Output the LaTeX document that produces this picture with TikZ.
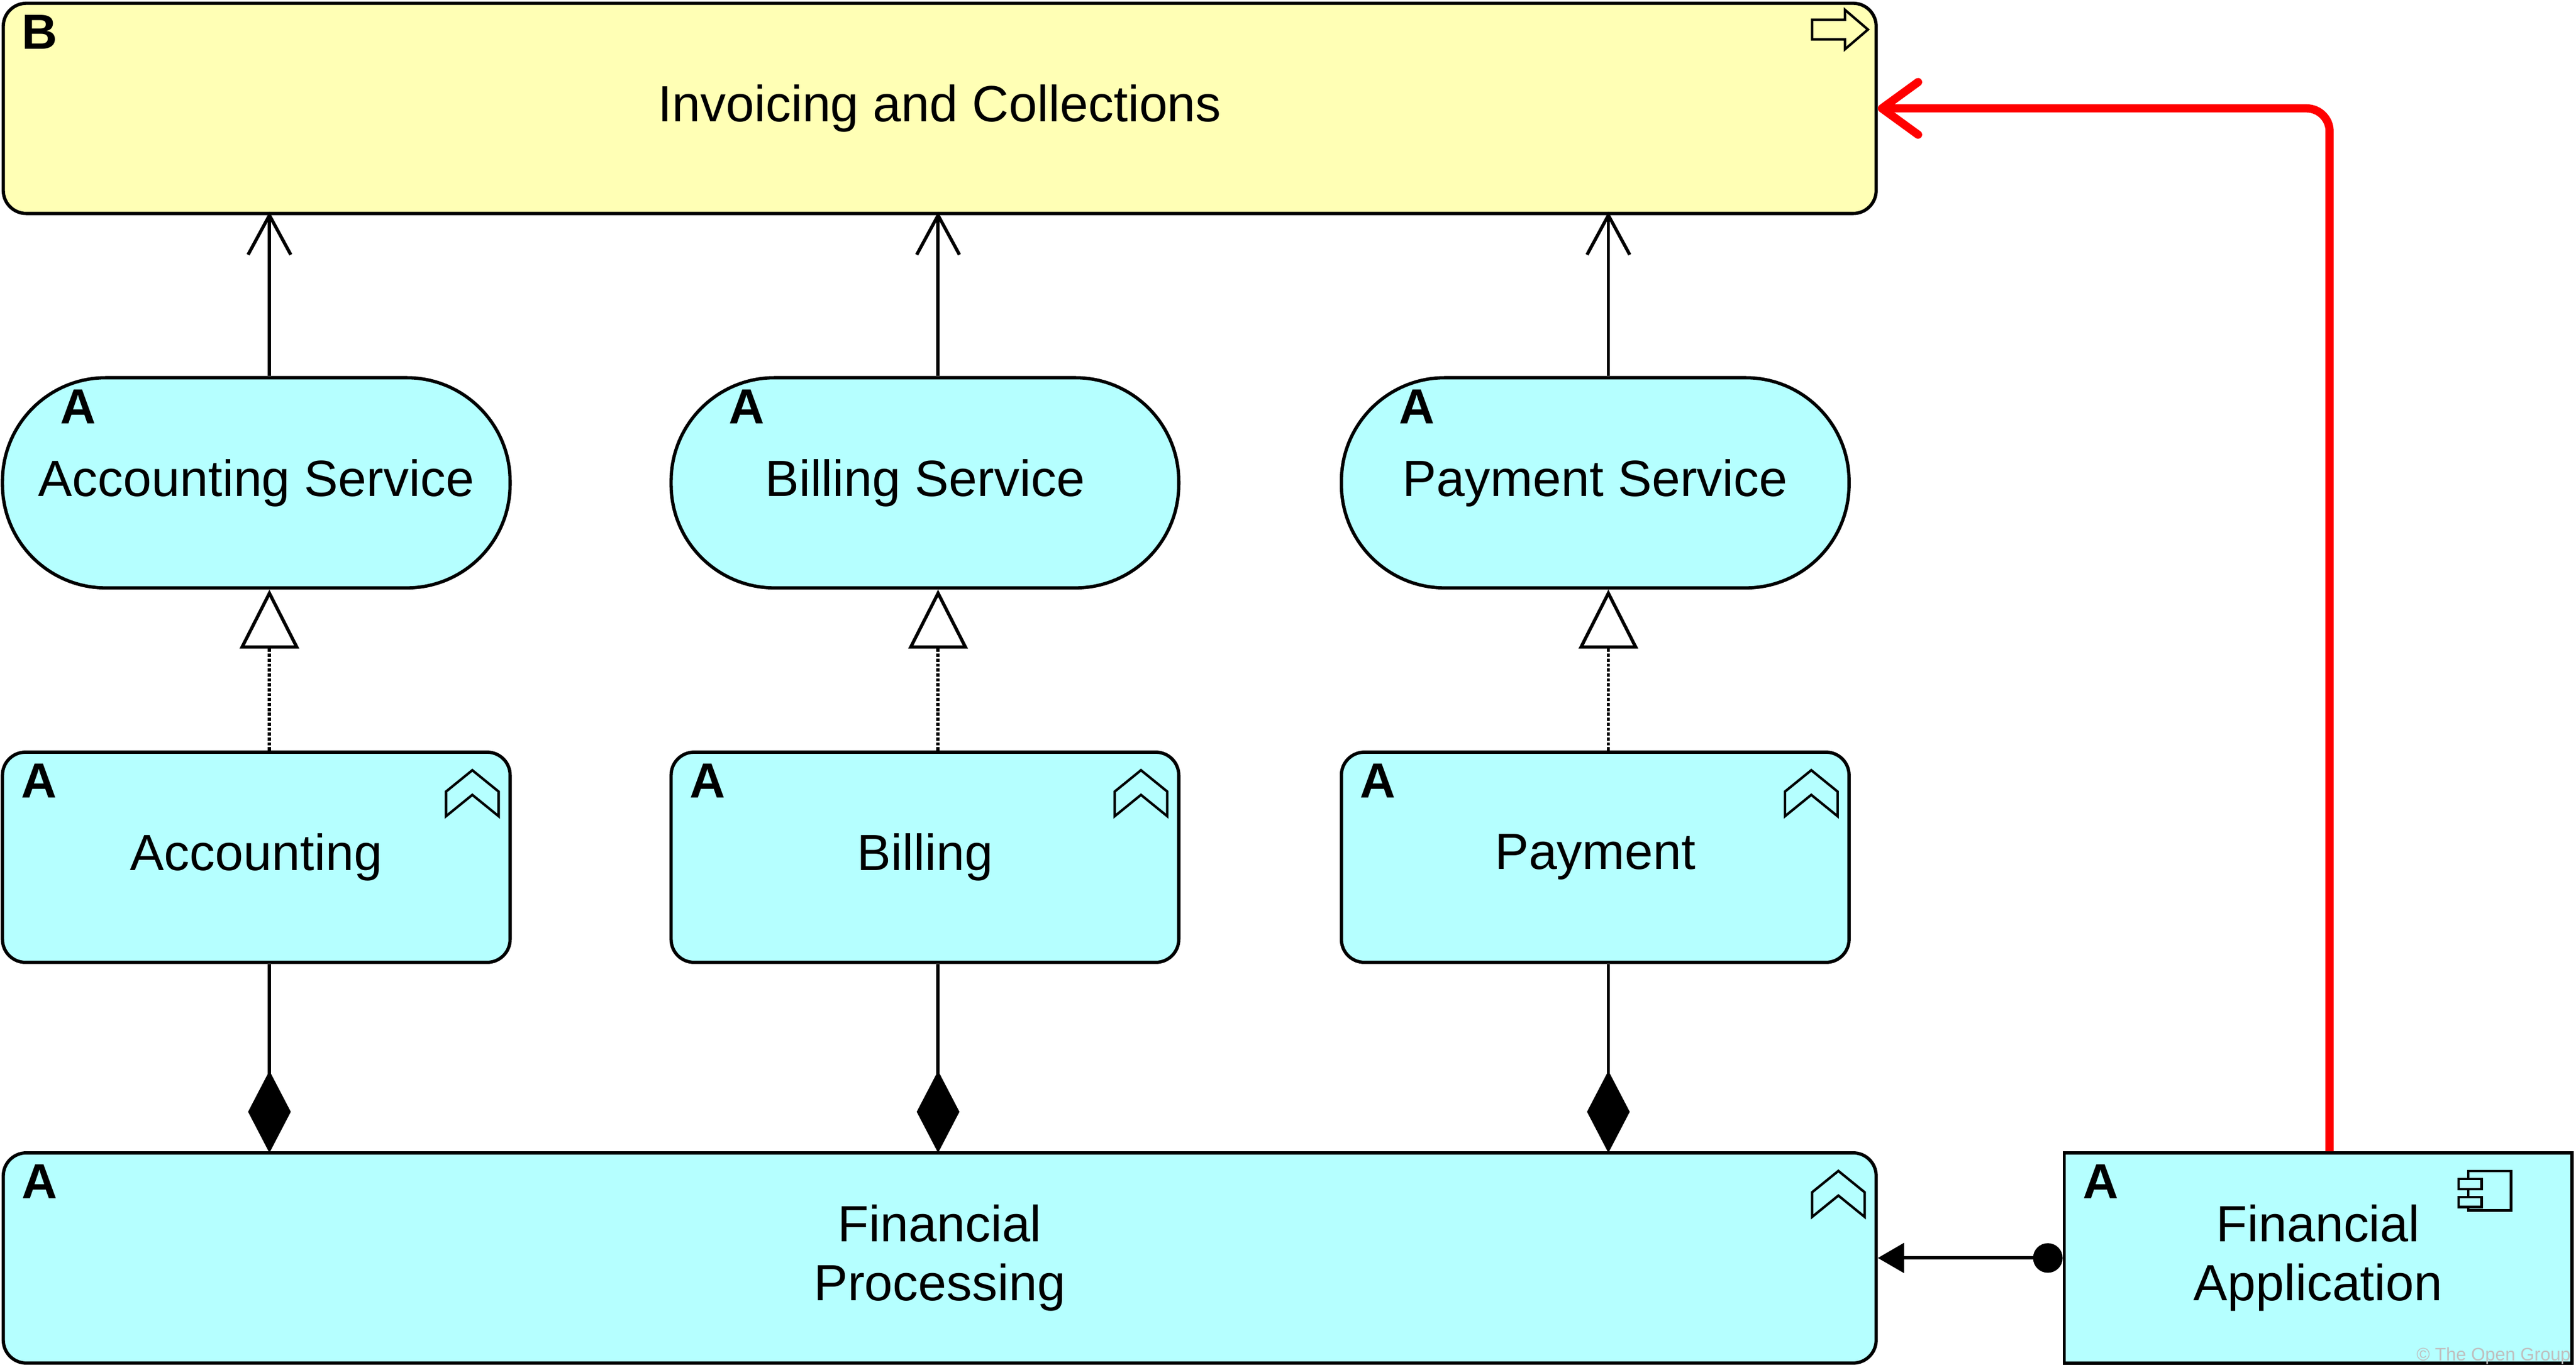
\documentclass[tikz,border=0pt]{standalone}
\usepackage{fontspec}
\setmainfont{Liberation Sans}
\usetikzlibrary{arrows.meta,positioning,calc}
\definecolor{bizyellow}{HTML}{FFFFB5}
\definecolor{appcyan}{HTML}{B5FFFF}
\definecolor{rel}{HTML}{FF0000}
\begin{document}
\begin{tikzpicture}[x=1pt, y=-1pt, semithick, font=\fontsize{31}{36}\selectfont]
    \tikzset{
      element/.style={draw=black, line width=2pt, minimum width=309pt, minimum height=128pt, align=center, inner sep=0pt},
      busfn/.style={element, fill=bizyellow, rounded corners=14pt},
      appsvc/.style={element, fill=appcyan, rounded corners=63pt},
      appfn/.style={element, fill=appcyan, rounded corners=14pt},
      appcomp/.style={element, fill=appcyan},
      serving/.style={-{Straight Barb[length=24pt,width=26pt,line width=2pt]}, line width=2pt},
      realize/.style={-{Triangle[open,length=36pt,width=36pt,line width=2pt,fill=white]}, line width=2pt, densely dotted},
      compose/.style={-{Diamond[length=50pt,width=26pt]}, line width=2pt},
      assign/.style={{Circle[length=18pt]}-{Triangle[length=16pt,width=18pt]}, line width=2pt},
      flow/.style={draw=rel, line width=5pt, rounded corners=14pt, -{Straight Barb[length=22pt,width=32pt,line width=5pt,round]}},
      layer/.style={font=\fontsize{30}{30}\selectfont\bfseries, anchor=north west, inner sep=0pt},
    }
    \useasboundingbox (0,0) rectangle (1568,834);
    % business layer
    \node[busfn, minimum width=1140pt] (ic) at (572,66) {Invoicing and Collections};
    \node[layer] at ($(ic.north west)+(12,8)$) {B};
    % application services
    \node[appsvc] (accs) at (156,294) {Accounting Service};
    \node[appsvc] (bils) at (563,294) {Billing Service};
    \node[appsvc] (pays) at (971,294) {Payment Service};
    % application functions
    \node[appfn] (acc) at (156,522) {Accounting};
    \node[appfn] (bil) at (563,522) {Billing};
    \node[appfn] (pay) at (971,522) {Payment};
    \node[appfn, minimum width=1140pt] (fp) at (572,766) {Financial\\Processing};
    \node[appcomp] (fa) at (1411,766) {Financial\\Application};
    % layer letters
    \foreach \n in {accs,bils,pays} \node[layer] at ($(\n.north west)+(36,8)$) {A};
    \foreach \n in {acc,bil,pay,fp,fa} \node[layer] at ($(\n.north west)+(12,8)$) {A};
    % function icons
    \foreach \n in {acc,bil,pay,fp}
      \draw[line width=1.5pt, fill=appcyan] ($(\n.north east)+(-40,40)$) -- ++(0,-15) -- ++(16,-13) -- ++(16,13) -- ++(0,15) -- ++(-16,-13) -- cycle;
    % process icon
    \draw[line width=1.5pt, fill=bizyellow] ($(ic.north east)+(-40,11)$) -- ++(20,0) -- ++(0,-6) -- ++(14,12) -- ++(-14,12) -- ++(0,-6) -- ++(-20,0) -- cycle;
    % component icon
    \draw[line width=1.5pt] ($(fa.north east)+(-38,12)$) rectangle ++(-26,24);
    \draw[line width=1.5pt, fill=appcyan] ($(fa.north east)+(-70,17)$) rectangle ++(14,6);
    \draw[line width=1.5pt, fill=appcyan] ($(fa.north east)+(-70,28)$) rectangle ++(14,6);
    % relations
    \foreach \s/\f in {accs/acc,bils/bil,pays/pay} {
      \draw[serving] ($(\s.north)+(8,0)$) -- ($(\s.north)+(8,-100)$);
      \draw[realize] ($(\f.north)+(8,0)$) -- ($(\s.south)+(8,0)$);
      \draw[compose] ($(\f.south)+(8,0)$) -- ($(\f.south)+(8,115)$);
    }
    \draw[assign] (fa.west) -- (fp.east);
    \draw[flow] ($(fa.north)+(7,0)$) |- (ic.east);
    \node[text=black!25, font=\fontsize{11}{12}\selectfont, anchor=south east, inner sep=1pt] at (1566,832) {\copyright{} The Open Group};
\end{tikzpicture}
\end{document}
